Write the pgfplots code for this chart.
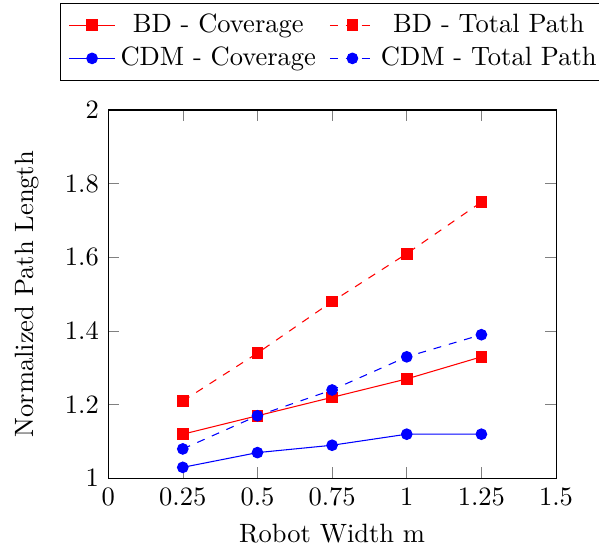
\documentclass[border=0pt]{standalone}
\usepackage{pgfplots}
\pgfplotsset{compat=1.18}
\begin{document}
\begin{tikzpicture}
\begin{axis}[
  name=ax,
  scale only axis,
  width=169pt, height=139pt,
  xmin=0, xmax=1.5,
  ymin=1, ymax=2,
  xtick={0,0.25,0.5,0.75,1,1.25,1.5},
  xticklabels={0,0.25,0.5,0.75,1,1.25,1.5},
  ytick={1,1.2,1.4,1.6,1.8,2},
  xlabel={Robot Width m},
  ylabel={Normalized Path Length},
  ylabel shift=3pt,
  legend columns=2,
  legend style={at={(0,1)}, anchor=south west, xshift=-18pt, yshift=11pt,
    /tikz/every even column/.append style={column sep=3pt}},
]
\addplot[red, mark=square*] coordinates {(0.25,1.12) (0.5,1.17) (0.75,1.22) (1,1.27) (1.25,1.33)};
\addlegendentry{BD - Coverage}
\addplot[red, dashed, mark=square*, mark options={solid}] coordinates {(0.25,1.21) (0.5,1.34) (0.75,1.48) (1,1.61) (1.25,1.75)};
\addlegendentry{BD - Total Path}
\addplot[blue, mark=*] coordinates {(0.25,1.03) (0.5,1.07) (0.75,1.09) (1,1.12) (1.25,1.12)};
\addlegendentry{CDM - Coverage}
\addplot[blue, dashed, mark=*, mark options={solid}] coordinates {(0.25,1.08) (0.5,1.17) (0.75,1.24) (1,1.33) (1.25,1.39)};
\addlegendentry{CDM - Total Path}
\end{axis}
\pgfresetboundingbox
\path[use as bounding box] ([shift={(-40.8pt,-26pt)}]ax.south west) rectangle ([shift={(16.2pt,41.5pt)}]ax.north east);
\end{tikzpicture}
\end{document}
